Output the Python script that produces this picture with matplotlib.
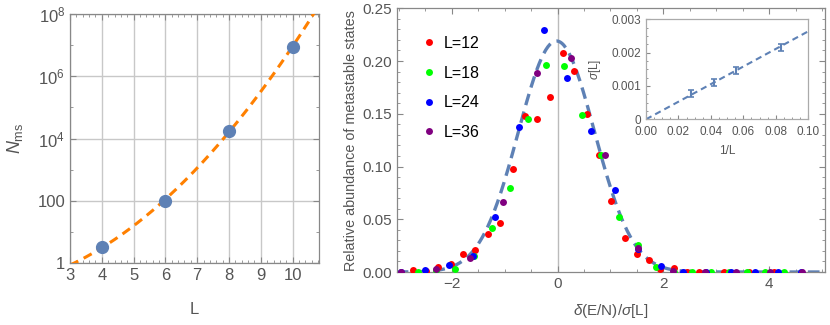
import numpy as np
import matplotlib
matplotlib.use('Agg')
import matplotlib.pyplot as plt
from matplotlib.ticker import FixedLocator, MultipleLocator, NullFormatter

plt.rcParams['font.family'] = ['Liberation Sans', 'DejaVu Sans']
plt.rcParams['mathtext.fontset'] = 'custom'
plt.rcParams['mathtext.rm'] = 'Liberation Sans'
plt.rcParams['mathtext.it'] = 'Liberation Sans:italic'

# left panel: number of metastable states vs L
L_vals = [4, 6, 8, 10]
N_ms = [3.2, 100, 1.8e4, 8.8e6]

# main panel: relative abundance histograms (x = delta(E/N)/sigma[L])
x12 = [-2.73, -2.49, -2.25, -2.01, -1.78, -1.56, -1.31, -1.08, -0.85, -0.62, -0.39, -0.15,
       0.10, 0.32, 0.56, 0.78, 1.02, 1.27, 1.50, 1.73, 1.94, 2.21, 2.45, 2.68, 3.15, 3.62, 4.09]
y12 = [0.002, 0.001, 0.005, 0.008, 0.017, 0.021, 0.036, 0.046, 0.098, 0.148, 0.145, 0.166,
       0.208, 0.191, 0.150, 0.111, 0.067, 0.032, 0.0175, 0.011, 0.003, 0.004, 0.0, 0.0, 0.0, 0.0, 0.0]
x18 = [-2.63, -2.29, -1.94, -1.58, -1.24, -0.89, -0.56, -0.21, 0.12, 0.47, 0.83, 1.17,
       1.52, 1.86, 2.21, 2.54, 2.90, 3.25, 3.59, 3.92, 4.28]
y18 = [0.0, 0.002, 0.0026, 0.015, 0.042, 0.080, 0.145, 0.196, 0.195, 0.149, 0.111, 0.052,
       0.026, 0.005, 0.0, 0.0, 0.0, 0.0, 0.0, 0.0, 0.0]
x24 = [-2.95, -2.50, -2.06, -1.59, -1.18, -0.72, -0.26, 0.17, 0.64, 1.08, 1.52, 1.95,
       2.37, 2.81, 3.28, 3.74, 4.17, 4.60]
y24 = [0.0, 0.0016, 0.0064, 0.0148, 0.052, 0.1375, 0.2296, 0.184, 0.134, 0.0775, 0.0215, 0.0055,
       0.0, 0.0, 0.0, 0.0, 0.0, 0.0]
x36 = [-2.95, -2.30, -1.65, -1.03, -0.39, 0.26, 0.89, 1.52, 2.18, 2.78, 3.38, 4.02, 4.62]
y36 = [0.0, 0.003, 0.0137, 0.066, 0.189, 0.203, 0.111, 0.023, 0.001, 0.0, 0.0, 0.0, 0.0]
series_labels = ['L=12', 'L=18', 'L=24', 'L=36']
series_colors = ['#ff0000', '#00ff00', '#0000ff', '#800080']

# gaussian fit
gauss_amp = 0.219
gauss_mu = -0.02
gauss_sigma = 0.72

# inset: sigma[L] vs 1/L
inv_L = [1/36, 1/24, 1/18, 1/12]
sigma_L = [0.00078, 0.00111, 0.00146, 0.00216]
sigma_err = [0.00011, 0.00010, 0.00010, 0.00011]
sigma_slope = 0.0264

mblue = '#5e81b5'
orange = '#ff8000'
gray_txt = '#555555'
frame_c = '#888888'

fig = plt.figure(figsize=(8.3, 3.25), dpi=100)


def style_frame(ax):
    for s in ax.spines.values():
        s.set_color(frame_c)
        s.set_linewidth(0.9)
    ax.tick_params(which='both', direction='in', top=True, right=True, colors=frame_c,
                   labelcolor=gray_txt)
    ax.tick_params(which='major', length=4)
    ax.tick_params(which='minor', length=2)


# ---- left panel ----
ax1 = fig.add_axes([70/830, 1-263/325, 249/830, 249/325])
Lfit = np.linspace(3, 10.83, 200)
coef = np.polyfit(L_vals, np.log10(N_ms), 2)
ax1.plot(Lfit, 10**np.polyval(coef, Lfit), '--', color=orange, lw=2.2, dashes=(3, 2), zorder=3)
ax1.plot(L_vals, N_ms, 'o', color=mblue, ms=8.5, zorder=4)
ax1.set_yscale('log')
ax1.set_xlim(3, 10.83)
ax1.set_ylim(1, 1e8)
ax1.set_xticks(range(3, 11))
ax1.xaxis.set_minor_locator(MultipleLocator(0.2))
ax1.yaxis.set_major_locator(FixedLocator([1, 1e2, 1e4, 1e6, 1e8]))
ax1.yaxis.set_minor_locator(FixedLocator([10, 1e3, 1e5, 1e7]))
ax1.yaxis.set_minor_formatter(NullFormatter())
ax1.set_yticklabels(['1', '100', r'$10^4$', r'$10^6$', r'$10^8$'])
ax1.grid(True, which='major', color='#c8c8c8', lw=1.0)
style_frame(ax1)
ax1.tick_params(labelsize=12)
ax1.set_xlabel('L', fontsize=12, color=gray_txt, labelpad=14)
ax1.set_ylabel(r'$N_{\mathrm{ms}}$', fontsize=13, color=gray_txt, labelpad=9)

# ---- main panel ----
ax2 = fig.add_axes([396.7/830, 1-272/325, 428/830, 263.7/325])
ax2.axvline(0, color='#bbbbbb', lw=1.0, zorder=1)
xg = np.linspace(-3.04, 5.05, 400)
ax2.plot(xg, gauss_amp*np.exp(-(xg-gauss_mu)**2/(2*gauss_sigma**2)), '--', color=mblue,
         lw=2.4, dashes=(3.5, 2), zorder=2)
for xs, ys, lab, c in zip([x12, x18, x24, x36], [y12, y18, y24, y36], series_labels, series_colors):
    ax2.plot(xs, ys, 'o', color=c, ms=5, mew=0, label=lab, zorder=3)
ax2.set_xlim(-3.04, 5.05)
ax2.set_ylim(0, 0.25)
ax2.set_xticks([-2, 0, 2, 4])
ax2.set_xticklabels(['\u22122', '0', '2', '4'])
ax2.xaxis.set_minor_locator(MultipleLocator(0.5))
ax2.set_yticks([0, 0.05, 0.10, 0.15, 0.20, 0.25])
ax2.set_yticklabels(['0.00', '0.05', '0.10', '0.15', '0.20', '0.25'])
ax2.yaxis.set_minor_locator(MultipleLocator(0.01))
style_frame(ax2)
ax2.tick_params(labelsize=11)
ax2.set_xlabel(r'$\delta$(E/N)/$\sigma$[L]', fontsize=11, color=gray_txt, labelpad=8)
ax2.set_ylabel('Relative abundance of metastable states', fontsize=10.4, color=gray_txt, labelpad=3)
ax2.legend(loc='upper left', bbox_to_anchor=(0.012, 0.962), frameon=False, fontsize=11.5,
           handletextpad=0.3, markerscale=1.0, labelspacing=0.92, borderaxespad=0.5,
           borderpad=0.6, handlelength=1.2)

# ---- inset ----
ax3 = fig.add_axes([646/830, 1-119.3/325, 162.3/830, 100/325])
xi = np.linspace(0, 0.1, 50)
ax3.plot(xi, sigma_slope*xi, '--', color=mblue, lw=1.5, dashes=(3, 2))
ax3.errorbar(inv_L, sigma_L, yerr=sigma_err, fmt='none', ecolor=mblue, elinewidth=1.5,
             capsize=2.2, capthick=1.2)
ax3.set_xlim(0, 0.1)
ax3.set_ylim(0, 0.003)
ax3.set_xticks([0, 0.02, 0.04, 0.06, 0.08, 0.10])
ax3.set_xticklabels(['0.00', '0.02', '0.04', '0.06', '0.08', '0.10'])
ax3.xaxis.set_minor_locator(MultipleLocator(0.005))
ax3.set_yticks([0, 0.001, 0.002, 0.003])
ax3.set_yticklabels(['0', '0.001', '0.002', '0.003'])
ax3.yaxis.set_minor_locator(MultipleLocator(0.00025))
for s in ax3.spines.values():
    s.set_color('#aaaaaa')
    s.set_linewidth(0.9)
ax3.tick_params(which='both', direction='in', colors=frame_c, labelcolor=gray_txt, labelsize=8.5)
ax3.tick_params(which='major', length=3)
ax3.tick_params(which='minor', length=1.5)
ax3.tick_params(axis='x', pad=5)
ax3.set_xlabel('1/L', fontsize=8.5, color=gray_txt, labelpad=5)
ax3.set_ylabel(r'$\sigma$[L]', fontsize=8.5, color=gray_txt, labelpad=6)

fig.savefig('out.png', dpi=100)
